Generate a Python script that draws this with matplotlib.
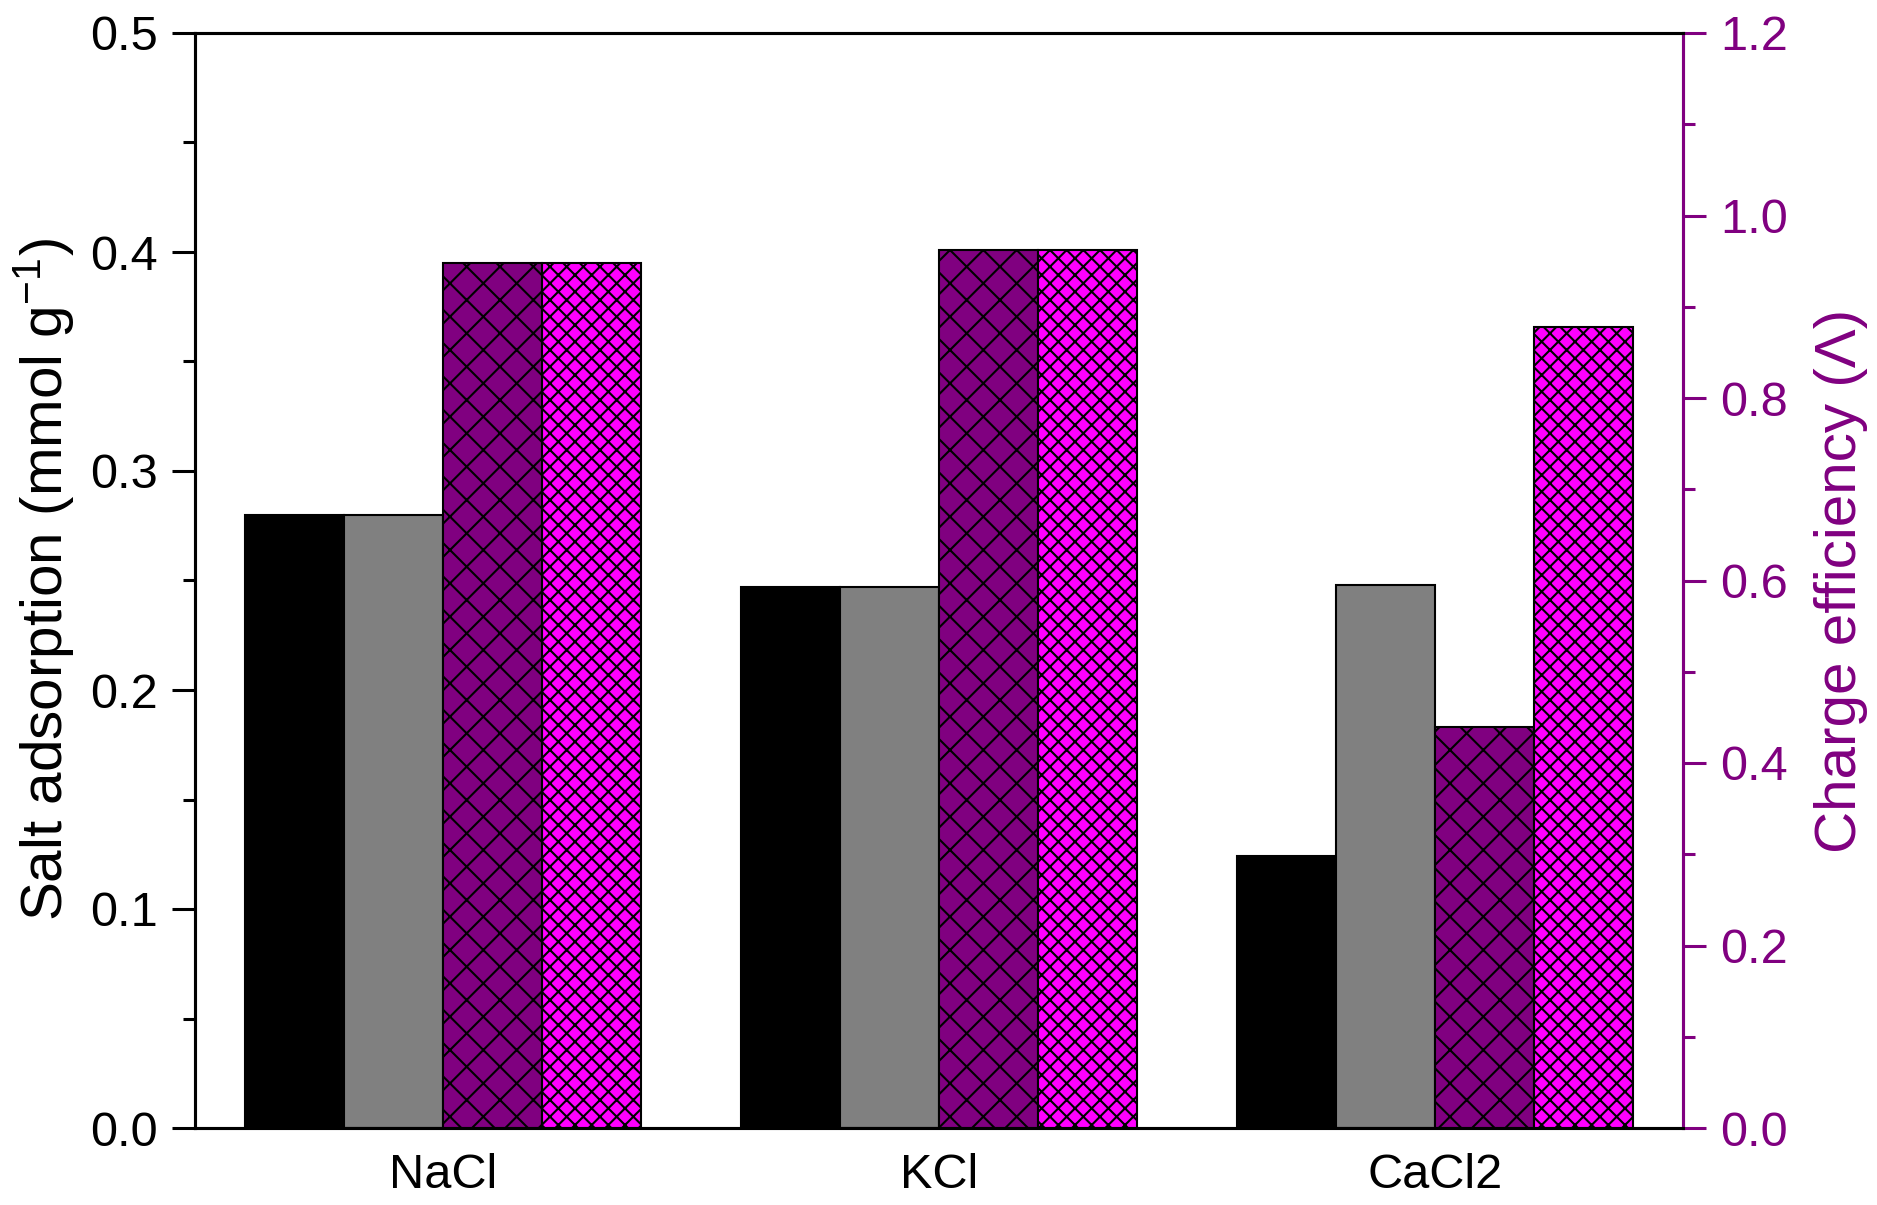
import matplotlib
matplotlib.use("Agg")
import matplotlib.pyplot as plt
import numpy as np

categories = ["NaCl", "KCl", "CaCl2"]
salt_black = [0.280, 0.247, 0.124]
salt_gray = [0.280, 0.247, 0.248]
ce_purple = [0.948, 0.962, 0.439]
ce_magenta = [0.948, 0.962, 0.878]

plt.rcParams['font.family'] = ['Liberation Sans', 'DejaVu Sans']
plt.rcParams['mathtext.fontset'] = 'custom'
plt.rcParams['mathtext.rm'] = 'Liberation Sans'
plt.rcParams['mathtext.it'] = 'Liberation Sans:italic'
plt.rcParams['hatch.linewidth'] = 0.75

PURPLE = '#800080'
MAGENTA = '#FF00FF'

fig = plt.figure(figsize=(1877/200, 1205/200), dpi=200)
ax = fig.add_axes([195/1877, 1 - 1128/1205, (1683-195)/1877, (1128-33)/1205])
ax2 = ax.twinx()

x = np.arange(len(categories))
w = 0.2
ax.bar(x - 1.5*w, salt_black, w, color='black', edgecolor='black', linewidth=0.75)
ax.bar(x - 0.5*w, salt_gray, w, color='#808080', edgecolor='black', linewidth=0.75)
ax2.bar(x + 0.5*w, ce_purple, w, color=PURPLE, edgecolor='black', linewidth=0.75, hatch='xx')
ax2.bar(x + 1.5*w, ce_magenta, w, color=MAGENTA, edgecolor='black', linewidth=0.75, hatch='xxxx')

ax.set_xlim(-0.5, 2.5)
ax.set_ylim(0, 0.5)
ax2.set_ylim(0, 1.2)
ax.set_xticks(x)
ax.set_xticklabels(categories)
ax.set_yticks(np.arange(0, 0.51, 0.1))
ax.set_yticks(np.arange(0.05, 0.5, 0.1), minor=True)
ax.yaxis.set_major_formatter(matplotlib.ticker.FormatStrFormatter('%.1f'))
ax2.set_yticks(np.arange(0, 1.21, 0.2))
ax2.set_yticks(np.arange(0.1, 1.2, 0.2), minor=True)
ax2.yaxis.set_major_formatter(matplotlib.ticker.FormatStrFormatter('%.1f'))

for sp in ax.spines.values():
    sp.set_linewidth(1.1)
for sp in ax2.spines.values():
    sp.set_linewidth(1.1)
ax2.spines['right'].set_color(PURPLE)

FS = 17.5
ax.tick_params(axis='x', length=0, pad=9, labelsize=FS)
ax.tick_params(axis='y', which='major', direction='out', length=8.3, width=1.1, pad=5, labelsize=FS)
ax.tick_params(axis='y', which='minor', direction='out', length=4.3, width=1.1)
ax2.tick_params(axis='y', which='major', direction='out', length=8.3, width=1.1, pad=5,
                labelsize=FS, color=PURPLE, labelcolor=PURPLE)
ax2.tick_params(axis='y', which='minor', direction='out', length=4.3, width=1.1, color=PURPLE)

fig.text(44/1877, 1 - 580/1205, 'Salt adsorption (mmol g$^{-1}$)', fontsize=21,
         rotation=90, ha='center', va='center')
fig.text(1841/1877, 1 - 581/1205, 'Charge efficiency (\u039b)', fontsize=21,
         rotation=90, ha='center', va='center', color=PURPLE)

fig.savefig('out.png', dpi=200)
